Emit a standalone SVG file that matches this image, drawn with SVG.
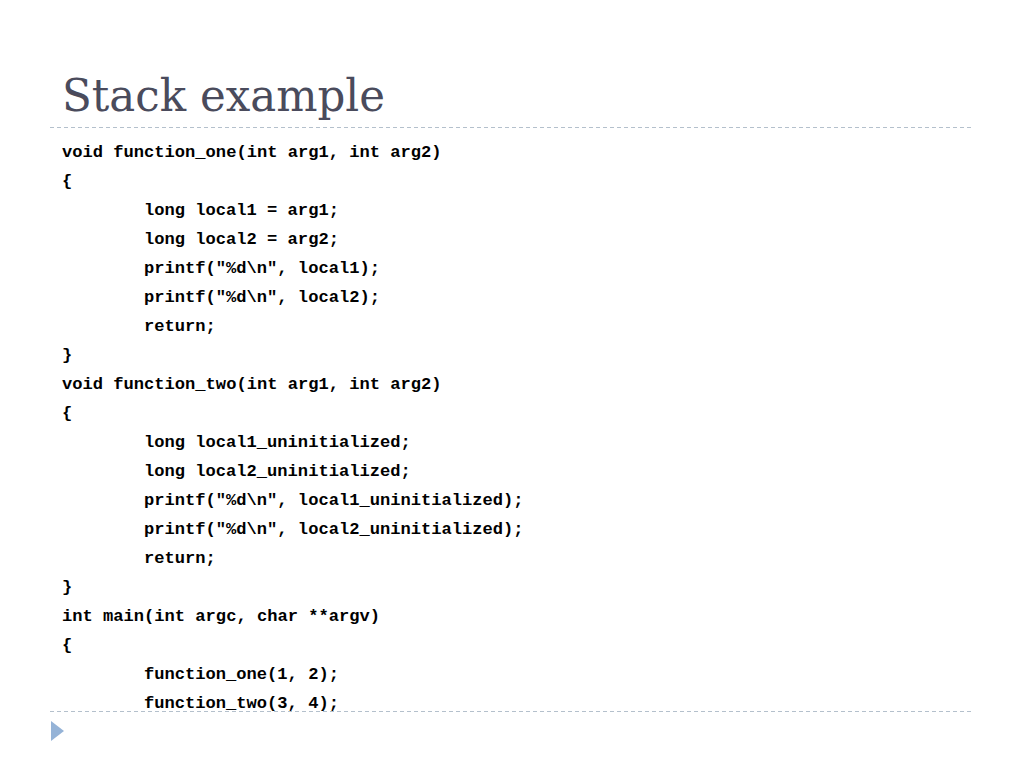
<svg xmlns="http://www.w3.org/2000/svg" width="1024" height="768" viewBox="0 0 1024 768">
<style>
.code{font-family:"Liberation Mono","Courier New",monospace;font-weight:bold;font-size:17.1px;fill:#000;white-space:pre}
.title{font-family:"DejaVu Serif","Liberation Serif",serif;font-size:44px;fill:#4a4b5c}
.rule{stroke:#b4c0cc;stroke-width:1.2;stroke-dasharray:4 3;fill:none}
</style>
<rect width="1024" height="768" fill="#fff"/>
<g id="title"><text class="title" x="62" y="111" textLength="323" lengthAdjust="spacingAndGlyphs">Stack example</text></g>
<g id="rules">
<line class="rule" x1="50" y1="127.5" x2="972" y2="127.5"/>
<line class="rule" x1="50" y1="711.5" x2="972" y2="711.5"/>
</g>
<g id="bullet"><polygon points="51,721 64,731 51,741" fill="#95b3d7"/></g>
<g id="code" class="code">
<text x="62" y="157">void function_one(int arg1, int arg2)</text>
<text x="62" y="186">{</text>
<text x="144" y="215">long local1 = arg1;</text>
<text x="144" y="244">long local2 = arg2;</text>
<text x="144" y="273">printf("%d\n", local1);</text>
<text x="144" y="302">printf("%d\n", local2);</text>
<text x="144" y="331">return;</text>
<text x="62" y="360">}</text>
<text x="62" y="389">void function_two(int arg1, int arg2)</text>
<text x="62" y="418">{</text>
<text x="144" y="447">long local1_uninitialized;</text>
<text x="144" y="476">long local2_uninitialized;</text>
<text x="144" y="505">printf("%d\n", local1_uninitialized);</text>
<text x="144" y="534">printf("%d\n", local2_uninitialized);</text>
<text x="144" y="563">return;</text>
<text x="62" y="592">}</text>
<text x="62" y="621">int main(int argc, char **argv)</text>
<text x="62" y="650">{</text>
<text x="144" y="679">function_one(1, 2);</text>
<text x="144" y="708">function_two(3, 4);</text>
</g>
</svg>
